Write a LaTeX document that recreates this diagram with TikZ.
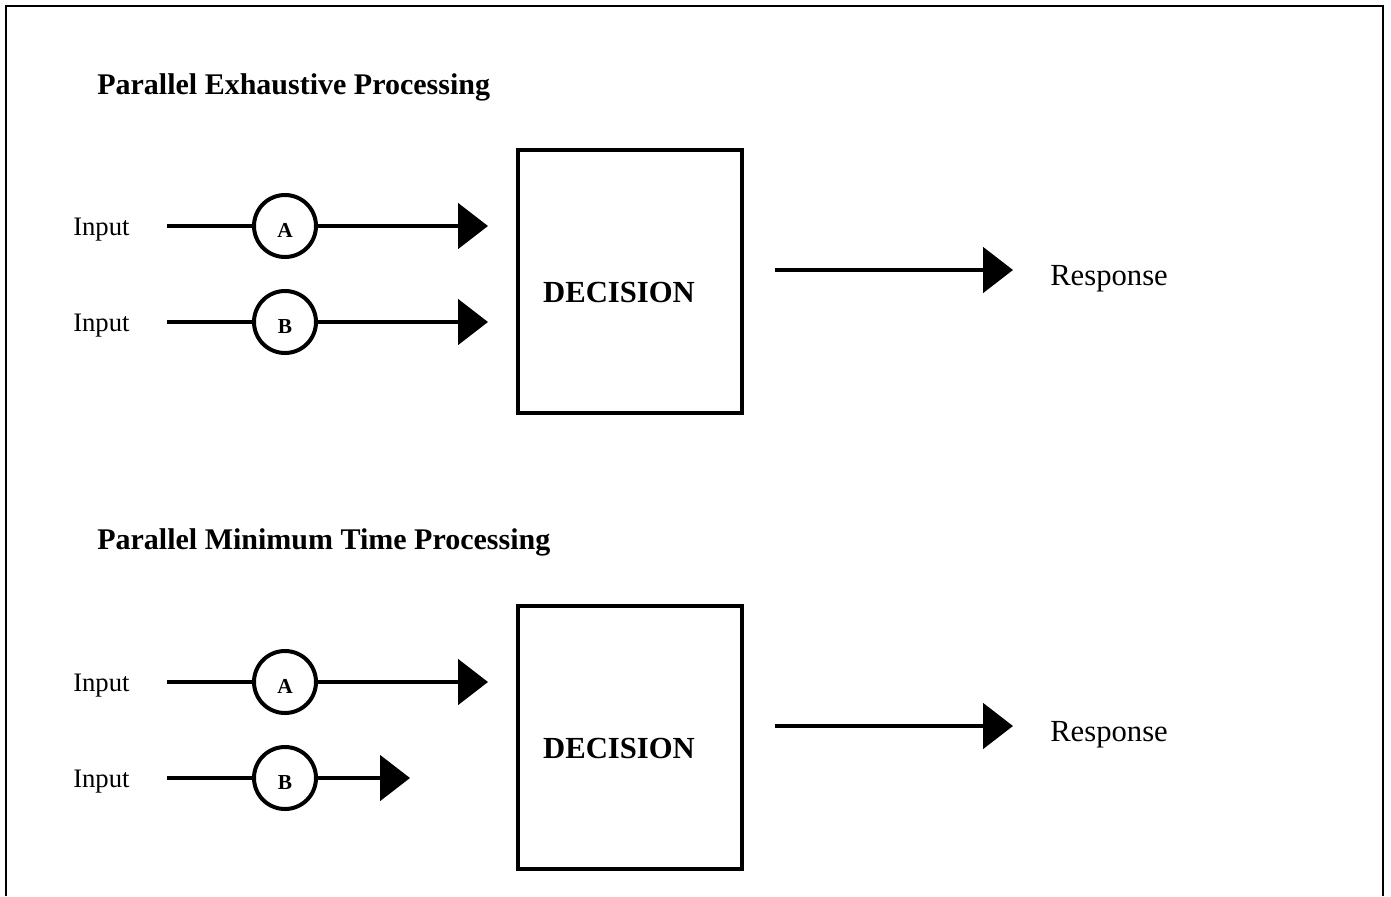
\documentclass[tikz,border=0pt]{standalone}
\usepackage{fontspec}
\setmainfont{Liberation Serif}
\usetikzlibrary{arrows.meta}
\begin{document}
\begin{tikzpicture}[x=0.75pt,y=-0.75pt,
  wire/.style={line width=3pt},
  arr/.style={line width=3pt,-{Triangle[length=22.5pt,width=34pt]}},
  circ/.style={circle,draw,line width=3pt,minimum size=46.5pt,inner sep=0pt},
  decbox/.style={draw,line width=3pt,minimum width=168pt,minimum height=197.25pt,inner sep=0pt},
  ttl/.style={anchor=base west,inner sep=0pt,font=\fontsize{22.5}{27}\selectfont\bfseries},
  inp/.style={anchor=base west,inner sep=0pt,font=\fontsize{20}{24}\selectfont},
  letter/.style={anchor=base,inner sep=0pt,font=\fontsize{16}{19}\selectfont\bfseries},
  dec/.style={anchor=base,inner sep=0pt,font=\fontsize{23}{27}\selectfont\bfseries},
  resp/.style={anchor=base west,inner sep=0pt,font=\fontsize{23}{27}\selectfont}]
\useasboundingbox (0,0) rectangle (1391,896);
% outer frame
\coordinate (f1) at (6,896);
\coordinate (f2) at (6,6);
\coordinate (f3) at (1383,6);
\coordinate (f4) at (1383,896);
\draw[line width=1.5pt] (f1) -- (f2) -- (f3) -- (f4);

% ---------- Panel 1 ----------
\node[ttl] (t1) at (97,94) {Parallel Exhaustive Processing};
\node[inp] (i1a) at (73,235) {Input};
\node[inp] (i1b) at (73,331) {Input};
\coordinate (s1a) at (167,226);
\coordinate (s1b) at (167,322);
\node[circ] (c1a) at (285,226) {};
\node[circ] (c1b) at (285,322) {};
\node[letter] (l1a) at (285,237) {A};
\node[letter] (l1b) at (285,333) {B};
\coordinate (e1a) at (488,226);
\coordinate (e1b) at (488,322);
\draw[wire] (s1a) -- (c1a);
\draw[wire] (s1b) -- (c1b);
\draw[arr] (c1a) -- (e1a);
\draw[arr] (c1b) -- (e1b);
\node[decbox] (d1) at (630,281.5) {};
\node[dec] (dt1) at (619,302) {DECISION};
\coordinate (r1s) at (775,270);
\coordinate (r1e) at (1013,270);
\draw[arr] (r1s) -- (r1e);
\node[resp] (rt1) at (1050,285) {Response};

% ---------- Panel 2 ----------
\node[ttl] (t2) at (97,549) {Parallel Minimum Time Processing};
\node[inp] (i2a) at (73,691) {Input};
\node[inp] (i2b) at (73,787) {Input};
\coordinate (s2a) at (167,682);
\coordinate (s2b) at (167,778);
\node[circ] (c2a) at (285,682) {};
\node[circ] (c2b) at (285,778) {};
\node[letter] (l2a) at (285,693) {A};
\node[letter] (l2b) at (285,789) {B};
\coordinate (e2a) at (488,682);
\coordinate (e2b) at (410,778);
\draw[wire] (s2a) -- (c2a);
\draw[wire] (s2b) -- (c2b);
\draw[arr] (c2a) -- (e2a);
\draw[arr] (c2b) -- (e2b);
\node[decbox] (d2) at (630,737.5) {};
\node[dec] (dt2) at (619,758) {DECISION};
\coordinate (r2s) at (775,726);
\coordinate (r2e) at (1013,726);
\draw[arr] (r2s) -- (r2e);
\node[resp] (rt2) at (1050,741) {Response};
\end{tikzpicture}
\end{document}
